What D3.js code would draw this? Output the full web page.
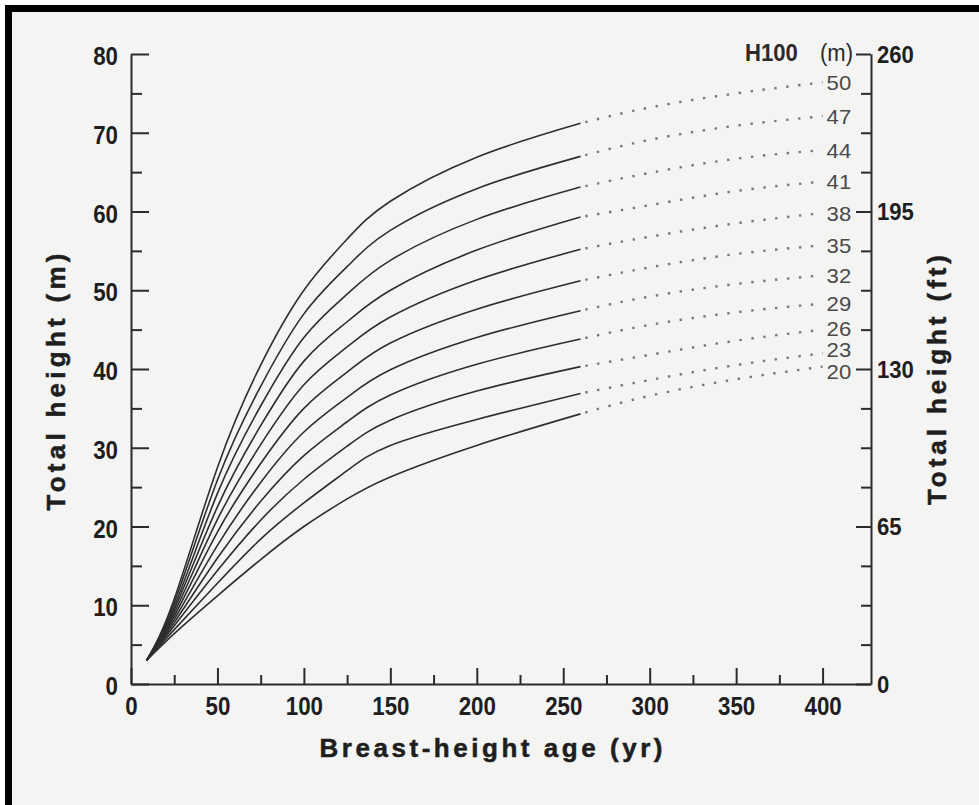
<!DOCTYPE html>
<html>
<head>
<meta charset="utf-8">
<script src="https://cdn.jsdelivr.net/npm/d3@7"></script>
<style>
  html, body { margin: 0; padding: 0; background: #ffffff; }
  svg { display: block; }
  .narrow { font-family: "Liberation Sans Narrow", "Arial Narrow", "Liberation Sans", Arial, sans-serif; }
</style>
</head>
<body>
<svg id="chart" width="979" height="805"></svg>
<script>
// ---------------- data ----------------
const siteIndex = [50, 47, 44, 41, 38, 35, 32, 29, 26, 23, 20];   // H100 (m)
const agesSolid = [9, 25, 50, 75, 100, 125, 150, 200, 260];        // breast-height age (yr)
const heightsSolid = [
  [3.0, 10.8, 27.5, 40.5, 50, 56.5, 61.3, 66.9, 71.2],
  [3.0, 10.3, 25.9, 37.8, 47, 53.0, 57.6, 62.9, 67.0],
  [3.0,  9.8, 24.2, 35.3, 44, 49.5, 53.8, 59.0, 63.1],
  [3.0,  9.4, 22.5, 32.8, 41, 46.0, 50.0, 55.1, 59.3],
  [3.0,  9.0, 20.9, 30.4, 38, 42.8, 46.6, 51.3, 55.2],
  [3.0,  8.6, 19.3, 28.0, 35, 39.6, 43.3, 47.6, 51.2],
  [3.0,  8.2, 17.6, 25.6, 32, 36.4, 39.9, 44.0, 47.4],
  [3.0,  7.8, 16.0, 23.2, 29, 33.3, 36.7, 40.6, 43.8],
  [3.0,  7.4, 14.4, 20.8, 26, 30.2, 33.5, 37.2, 40.3],
  [3.0,  6.9, 12.8, 18.4, 23, 27.1, 30.3, 33.6, 36.9],
  [3.0,  6.4, 11.2, 15.8, 20, 23.5, 26.3, 30.3, 34.3]
];
const agesExt = [260, 300, 350, 400];                              // dotted extrapolation
const heightsExt = [
  [71.2, 73.2, 75.0, 76.4],
  [67.0, 69.1, 70.9, 72.1],
  [63.1, 64.9, 66.7, 67.8],
  [59.3, 60.8, 62.6, 63.8],
  [55.2, 56.8, 58.5, 59.8],
  [51.2, 52.9, 54.6, 55.7],
  [47.4, 49.2, 50.8, 51.9],
  [43.8, 45.6, 47.2, 48.3],
  [40.3, 41.8, 43.6, 45.0],
  [36.9, 38.6, 40.5, 42.0],
  [34.3, 36.6, 38.7, 40.3]
];
const xTicksMajor = [0, 50, 100, 150, 200, 250, 300, 350, 400];
const xTicksMinor = [25, 75, 125, 175, 225, 275, 325, 375];
const yTicksMajor = [0, 10, 20, 30, 40, 50, 60, 70, 80];
const yTicksMinor = [5, 15, 25, 35, 45, 55, 65, 75];
const ftTicksMajor = [0, 65, 130, 195, 260];
const ftTicksMinor = [16.25, 32.5, 48.75, 81.25, 97.5, 113.75, 146.25, 162.5, 178.75, 211.25, 227.5, 243.75];
const xTitle = "Breast-height age (yr)";
const yTitle = "Total height (m)";
const y2Title = "Total height (ft)";
const seriesTitle = ["H100", "(m)"];

// ---------------- layout ----------------
const svg = d3.select("#chart");
const L = 131, R = 871, T = 54, B = 684;
const x = d3.scaleLinear().domain([0, 428]).range([L, R]);
const y = d3.scaleLinear().domain([0, 80]).range([B, T]);
const yFt = d3.scaleLinear().domain([0, 260]).range([B, T]);

// frame + background
svg.append("rect").attr("x", 8.5).attr("y", 8.5).attr("width", 1100).attr("height", 1100)
  .attr("fill", "#f4f4f3").attr("stroke", "#000").attr("stroke-width", 7);

const axisColor = "#2b2b2b";
function narrowText(sel, size, perChar) {
  sel.attr("class", "narrow").attr("font-size", size)
    .each(function () {
      const t = d3.select(this);
      const n = (t.text() || "").length;
      if (n) t.attr("textLength", n * perChar).attr("lengthAdjust", "spacingAndGlyphs");
    });
}
function styleAxis(g) {
  g.selectAll("path.domain").attr("stroke", axisColor).attr("stroke-width", 2);
  g.selectAll(".tick line").attr("stroke", axisColor).attr("stroke-width", 2);
  g.selectAll(".tick text").attr("font-weight", "bold").attr("fill", "#1e1e1e");
}

// left axis
const gL = svg.append("g").attr("transform", `translate(${L},0)`)
  .call(d3.axisLeft(y).tickValues(yTicksMajor).tickSize(-18).tickSizeOuter(0).tickPadding(13).tickFormat(d3.format("d")));
styleAxis(gL);
gL.selectAll(".tick text").call(narrowText, 25, 12.4).attr("dy", "0.42em");
const gLm = svg.append("g").attr("transform", `translate(${L},0)`)
  .call(d3.axisLeft(y).tickValues(yTicksMinor).tickSize(-11).tickSizeOuter(0).tickFormat(""));
gLm.select("path.domain").remove();
styleAxis(gLm);

// bottom axis
const gB = svg.append("g").attr("transform", `translate(0,${B})`)
  .call(d3.axisBottom(x).tickValues(xTicksMajor).tickSize(-16).tickSizeOuter(0).tickPadding(13).tickFormat(d3.format("d")));
styleAxis(gB);
gB.selectAll(".tick text").call(narrowText, 25, 12.4);
const gBm = svg.append("g").attr("transform", `translate(0,${B})`)
  .call(d3.axisBottom(x).tickValues(xTicksMinor).tickSize(-9).tickSizeOuter(0).tickFormat(""));
gBm.select("path.domain").remove();
styleAxis(gBm);

// right axis (feet)
const gR = svg.append("g").attr("transform", `translate(${R},0)`)
  .call(d3.axisRight(yFt).tickValues(ftTicksMajor).tickSize(-15).tickSizeOuter(0).tickPadding(6).tickFormat(d3.format("d")));
styleAxis(gR);
gR.selectAll(".tick text").call(narrowText, 23, 12.3).attr("dy", "0.36em");
const gRm = svg.append("g").attr("transform", `translate(${R},0)`)
  .call(d3.axisRight(yFt).tickValues(ftTicksMinor).tickSize(-10).tickSizeOuter(0).tickFormat(""));
gRm.select("path.domain").remove();
styleAxis(gRm);

// curves
const line = d3.line().x(d => x(d[0])).y(d => y(d[1])).curve(d3.curveNatural);
const gC = svg.append("g");
heightsSolid.forEach(hs => {
  gC.append("path").datum(agesSolid.map((a, j) => [a, hs[j]]))
    .attr("d", line).attr("fill", "none").attr("stroke", "#2e2e2e").attr("stroke-width", 1.6);
});
heightsExt.forEach(hs => {
  gC.append("path").datum(agesExt.map((a, j) => [a, hs[j]]))
    .attr("d", line).attr("fill", "none").attr("stroke", "#777").attr("stroke-width", 2.4)
    .attr("stroke-dasharray", "2.4 9.6").attr("stroke-dashoffset", -5);
});

// curve labels with simple collision push
const lastAge = agesExt[agesExt.length - 1];
const labelPos = heightsExt.map(h => y(h[h.length - 1]));
const minGap = 21.5;
for (let iter = 0; iter < 30; iter++) {
  for (let i = 1; i < labelPos.length; i++) {
    const gap = labelPos[i] - labelPos[i - 1];
    if (gap < minGap) { const d = (minGap - gap) / 2; labelPos[i - 1] -= d; labelPos[i] += d; }
  }
}
siteIndex.forEach((s, i) => {
  svg.append("text").attr("x", x(lastAge) + 4).attr("y", labelPos[i])
    .attr("dy", "0.36em").attr("fill", "#4a4a4a").text(s)
    .call(narrowText, 21, 12.3);
});

// H100 (m) header
svg.append("text").attr("x", 745).attr("y", 61).attr("font-weight", "bold")
  .attr("fill", "#2a2a2a").text(seriesTitle[0]).call(narrowText, 23, 13.2);
svg.append("text").attr("x", 820).attr("y", 61)
  .attr("fill", "#2a2a2a").text(seriesTitle[1]).call(narrowText, 23, 11);

// axis titles
const titleStyle = (t, len) => t.attr("font-family", "'Liberation Sans', Arial, Helvetica, sans-serif")
  .attr("font-weight", "bold").attr("font-size", 26).attr("textLength", len)
  .attr("stroke", "#1e1e1e").attr("stroke-width", 0.5)
  .attr("fill", "#1e1e1e").attr("text-anchor", "middle");
svg.append("text").attr("x", 491).attr("y", 757).text(xTitle).call(titleStyle, 343);
svg.append("text").attr("transform", "translate(65,382) rotate(-90)").text(yTitle).call(titleStyle, 257);
svg.append("text").attr("transform", "translate(946,380) rotate(-90)").text(y2Title).call(titleStyle, 250);
</script>
</body>
</html>
